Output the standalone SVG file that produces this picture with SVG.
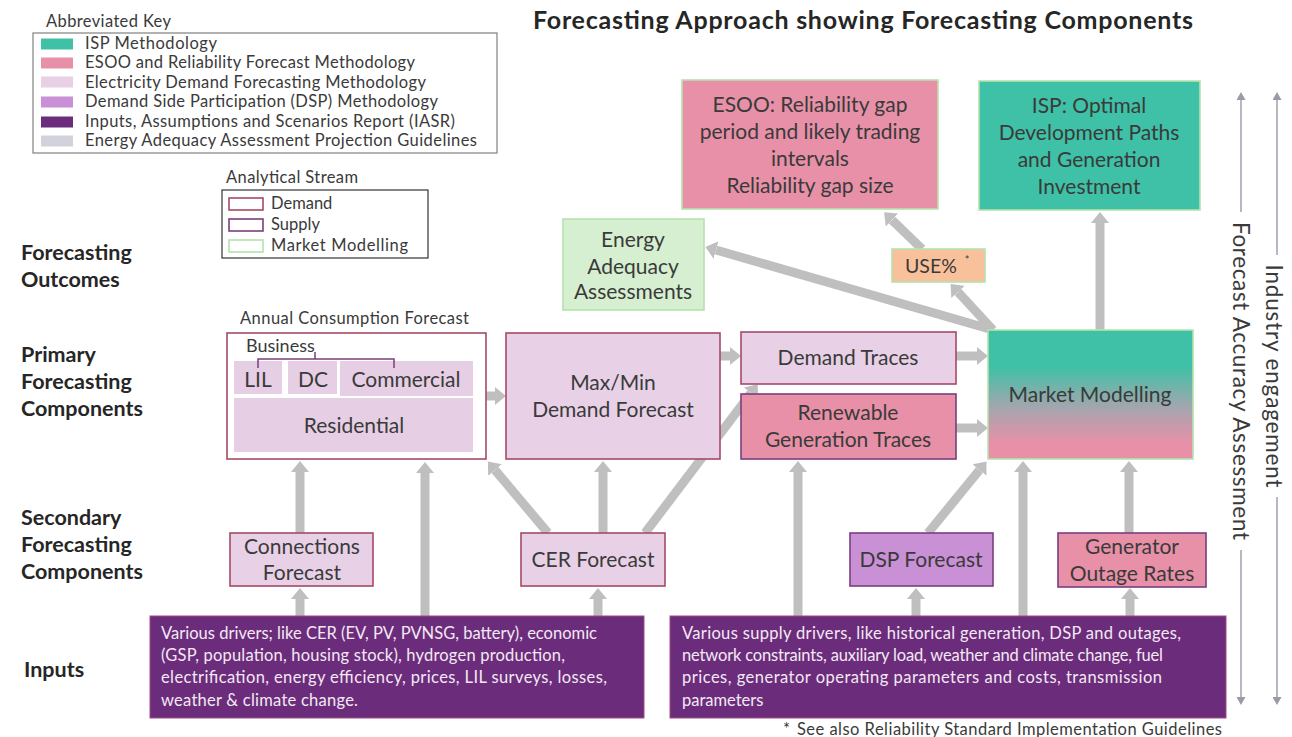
<svg xmlns="http://www.w3.org/2000/svg" width="1292" height="737" viewBox="0 0 1292 737">
<defs>
<style>
text{font-family:Lato,"Liberation Sans",sans-serif;fill:#3a3a3a}
.t{font-size:21px;text-anchor:middle}
.lbl{font-size:21.5px;font-weight:bold;fill:#262626}
.key{font-size:16.5px;fill:#3a3a3a}
.inp{font-size:16.5px;fill:#f3e9f3}
.conn{stroke:#bfbfbf;stroke-width:9;fill:none;marker-end:url(#ah)}
.dem{stroke:#a64a66;stroke-width:1.6}
.sup{stroke:#7a3e7e;stroke-width:1.6}
.mm{stroke:#b5e3ad;stroke-width:1.6}
.lp{fill:#e8d1e6}
.pk{fill:#e890a8}
.vl{stroke:#9a9aa8;stroke-width:1.4;fill:none}
</style>
<marker id="ah" markerUnits="userSpaceOnUse" markerWidth="12" markerHeight="18" refX="0" refY="9" orient="auto">
<path d="M0,0 L11,9 L0,18 Z" fill="#bfbfbf"/>
</marker>
<marker id="sa" markerUnits="userSpaceOnUse" markerWidth="9" markerHeight="9" refX="0" refY="4.5" orient="auto-start-reverse">
<path d="M0,0 L8,4.5 L0,9 Z" fill="#9a9aa8"/>
</marker>
<linearGradient id="mmg" x1="0" y1="0" x2="0" y2="1">
<stop offset="0" stop-color="#3ec1a6"/>
<stop offset="0.28" stop-color="#3ec1a6"/>
<stop offset="0.62" stop-color="#a9a4ae"/>
<stop offset="0.88" stop-color="#e890a8"/>
<stop offset="1" stop-color="#e890a8"/>
</linearGradient>
</defs>
<rect width="1292" height="737" fill="#ffffff"/>

<text x="863" y="29" text-anchor="middle" font-size="25" font-weight="bold" textLength="660" style="fill:#262626">Forecasting Approach showing Forecasting Components</text>

<g id="key">
<text class="key" x="46" y="27" textLength="125">Abbreviated Key</text>
<rect x="33" y="33" width="464" height="120" fill="#fff" stroke="#808080" stroke-width="1.2"/>
<rect x="41" y="38.5" width="32" height="11" fill="#3ec1a6"/>
<rect x="41" y="57.5" width="32" height="11" fill="#e890a8"/>
<rect x="41" y="76.5" width="32" height="11" fill="#e8d1e6"/>
<rect x="41" y="96.5" width="32" height="11" fill="#c990d6"/>
<rect x="41" y="116.5" width="32" height="11" fill="#6b2d7b"/>
<rect x="41" y="135.5" width="32" height="11" fill="#d2d2dc"/>
<text class="key" x="85" y="49" textLength="132">ISP Methodology</text>
<text class="key" x="85" y="68" textLength="330">ESOO and Reliability Forecast Methodology</text>
<text class="key" x="85" y="88" textLength="341">Electricity Demand Forecasting Methodology</text>
<text class="key" x="85" y="107" textLength="353">Demand Side Participation (DSP) Methodology</text>
<text class="key" x="85" y="127" textLength="370">Inputs, Assumptions and Scenarios Report (IASR)</text>
<text class="key" x="85" y="146" textLength="392">Energy Adequacy Assessment Projection Guidelines</text>
</g>

<g id="stream-key">
<text class="key" x="226" y="183" textLength="132">Analytical Stream</text>
<rect x="222" y="190" width="206" height="68" fill="#fff" stroke="#333" stroke-width="1.2"/>
<rect x="229" y="198" width="34" height="12" fill="#fff" class="dem"/>
<rect x="229" y="219" width="34" height="12" fill="#fff" class="sup"/>
<rect x="229" y="240" width="34" height="12" fill="#fff" class="mm"/>
<text class="key" x="271" y="209">Demand</text>
<text class="key" x="271" y="230">Supply</text>
<text class="key" x="271" y="251" textLength="137">Market Modelling</text>
</g>

<g id="row-labels">
<text class="lbl" x="21" y="260">Forecasting</text>
<text class="lbl" x="21" y="287">Outcomes</text>
<text class="lbl" x="21" y="362">Primary</text>
<text class="lbl" x="21" y="389">Forecasting</text>
<text class="lbl" x="21" y="416">Components</text>
<text class="lbl" x="21" y="525">Secondary</text>
<text class="lbl" x="21" y="552">Forecasting</text>
<text class="lbl" x="21" y="579">Components</text>
<text class="lbl" x="24" y="677">Inputs</text>
</g>

<g id="connectors">
<line class="conn" x1="300" y1="533" x2="300" y2="472"/>
<line class="conn" x1="300" y1="616" x2="300" y2="599"/>
<line class="conn" x1="425" y1="616" x2="425" y2="473"/>
<line class="conn" x1="598" y1="616" x2="598" y2="599"/>
<line class="conn" x1="548" y1="533" x2="495" y2="470"/>
<line class="conn" x1="603" y1="533" x2="603" y2="472"/>
<line class="conn" x1="645" y1="533" x2="751" y2="393"/>
<line class="conn" x1="486" y1="396" x2="495" y2="396"/>
<line class="conn" x1="720" y1="356" x2="730" y2="356"/>
<line class="conn" x1="956" y1="356" x2="977" y2="356"/>
<line class="conn" x1="956" y1="428" x2="977" y2="428"/>
<line class="conn" x1="798" y1="616" x2="798" y2="472"/>
<line class="conn" x1="916" y1="616" x2="916" y2="599"/>
<line class="conn" x1="928" y1="533" x2="979.5" y2="470"/>
<line class="conn" x1="1023" y1="616" x2="1023" y2="472"/>
<line class="conn" x1="1129" y1="533" x2="1129" y2="472"/>
<line class="conn" x1="1130" y1="616" x2="1130" y2="599"/>
<line class="conn" x1="1100" y1="330" x2="1100" y2="223"/>
<line class="conn" x1="993" y1="330" x2="958" y2="292"/>
<line class="conn" x1="922" y1="249" x2="892" y2="220"/>
<line class="conn" x1="993" y1="330" x2="716" y2="250"/>
</g>

<g id="annual-consumption">
<text class="key" x="240" y="324" textLength="229">Annual Consumption Forecast</text>
<rect x="227" y="333" width="259" height="126" fill="#fff" class="dem"/>
<rect x="234" y="361" width="48" height="33" fill="#e6cfe4"/>
<rect x="288" y="361" width="49" height="33" fill="#e6cfe4"/>
<rect x="340" y="361" width="133" height="35" fill="#e6cfe4"/>
<rect x="234" y="398" width="239" height="54" fill="#e6cfe4"/>
<text x="246" y="352" font-size="18">Business</text>
<path d="M258,368 V359 H394 V368 M315,359 V352" stroke="#7a3e7e" stroke-width="1.5" fill="none"/>
<text class="t" x="258" y="387">LIL</text>
<text class="t" x="313" y="387">DC</text>
<text class="t" x="406" y="387">Commercial</text>
<text class="t" x="354" y="433">Residential</text>
</g>

<g id="maxmin">
<rect x="506" y="333" width="214" height="126" class="lp dem"/>
<text class="t" x="613" y="390">Max/Min</text>
<text class="t" x="613" y="417">Demand Forecast</text>
</g>

<g id="demand-traces">
<rect x="741" y="332" width="215" height="52" class="lp dem"/>
<text class="t" x="848" y="365">Demand Traces</text>
</g>

<g id="renewable-traces">
<rect x="741" y="394" width="215" height="65" class="pk sup"/>
<text class="t" x="848" y="420">Renewable</text>
<text class="t" x="848" y="447">Generation Traces</text>
</g>

<g id="market-modelling">
<rect x="988" y="330" width="205" height="129" fill="url(#mmg)" class="mm"/>
<text class="t" x="1090" y="402">Market Modelling</text>
</g>

<g id="esoo">
<rect x="682" y="80" width="256" height="129" class="pk mm"/>
<text class="t" x="810" y="112">ESOO: Reliability gap</text>
<text class="t" x="810" y="139">period and likely trading</text>
<text class="t" x="810" y="166">intervals</text>
<text class="t" x="810" y="193">Reliability gap size</text>
</g>

<g id="isp">
<rect x="979" y="81" width="221" height="129" fill="#3ec1a6" class="mm"/>
<text class="t" x="1089" y="113">ISP: Optimal</text>
<text class="t" x="1089" y="140">Development Paths</text>
<text class="t" x="1089" y="167">and Generation</text>
<text class="t" x="1089" y="194">Investment</text>
</g>

<g id="energy-adequacy">
<rect x="563" y="219" width="141" height="91" fill="#d5efd0" class="mm"/>
<text class="t" x="633" y="247">Energy</text>
<text class="t" x="633" y="274">Adequacy</text>
<text class="t" x="633" y="299">Assessments</text>
</g>

<g id="use">
<rect x="892" y="249" width="93" height="33" fill="#f8c19c" class="mm"/>
<text x="905" y="273" font-size="19.5">USE%<tspan dx="8" dy="-9" font-size="11">*</tspan></text>
</g>

<g id="connections-forecast">
<rect x="230" y="533" width="143" height="53" class="lp dem"/>
<text class="t" x="302" y="554">Connections</text>
<text class="t" x="302" y="580">Forecast</text>
</g>

<g id="cer-forecast">
<rect x="521" y="533" width="144" height="53" class="lp dem"/>
<text class="t" x="593" y="567">CER Forecast</text>
</g>

<g id="dsp-forecast">
<rect x="850" y="533" width="143" height="53" fill="#c990d6" class="sup"/>
<text class="t" x="921" y="567">DSP Forecast</text>
</g>

<g id="generator-outage">
<rect x="1058" y="533" width="148" height="54" class="pk sup"/>
<text class="t" x="1132" y="554">Generator</text>
<text class="t" x="1132" y="581">Outage Rates</text>
</g>

<g id="inputs-demand">
<rect x="150" y="616" width="494" height="102" fill="#6b2d7b" stroke="#a04a80" stroke-width="1"/>
<text class="inp" x="161" y="639" textLength="436">Various drivers; like CER (EV, PV, PVNSG, battery), economic</text>
<text class="inp" x="161" y="661" textLength="404">(GSP, population, housing stock), hydrogen production,</text>
<text class="inp" x="161" y="683" textLength="446">electrification, energy efficiency, prices, LIL surveys, losses,</text>
<text class="inp" x="161" y="706" textLength="197">weather &amp; climate change.</text>
</g>

<g id="inputs-supply">
<rect x="670" y="616" width="556" height="102" fill="#6b2d7b" stroke="#a04a80" stroke-width="1"/>
<text class="inp" x="682" y="639" textLength="499">Various supply drivers, like historical generation, DSP and outages,</text>
<text class="inp" x="682" y="661" textLength="481">network constraints, auxiliary load, weather and climate change, fuel</text>
<text class="inp" x="682" y="683" textLength="480">prices, generator operating parameters and costs, transmission</text>
<text class="inp" x="682" y="706">parameters</text>
</g>

<g id="footnote">
<text class="key" x="783" y="735">*</text>
<text class="key" x="797" y="735" textLength="425">See also Reliability Standard Implementation Guidelines</text>
</g>

<g id="side-axes">
<line class="vl" x1="1241" y1="212" x2="1241" y2="100" marker-end="url(#sa)"/>
<line class="vl" x1="1241" y1="550" x2="1241" y2="697" marker-end="url(#sa)"/>
<line class="vl" x1="1277" y1="255" x2="1277" y2="100" marker-end="url(#sa)"/>
<line class="vl" x1="1277" y1="497" x2="1277" y2="697" marker-end="url(#sa)"/>
<text transform="translate(1241,381) rotate(90)" text-anchor="middle" dominant-baseline="central" font-size="22.5" textLength="318">Forecast Accuracy Assessment</text>
<text transform="translate(1274,376) rotate(90)" text-anchor="middle" dominant-baseline="central" font-size="22.5" textLength="223">Industry engagement</text>
</g>
</svg>
